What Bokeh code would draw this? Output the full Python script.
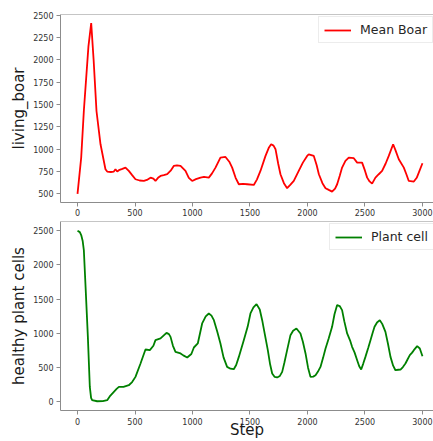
from bokeh.plotting import figure
from bokeh.layouts import column
from bokeh.models import Range1d, FixedTicker, Span, Legend, LegendItem
from bokeh.embed import file_html
from bokeh.resources import INLINE

# ---- data ----
boar_step = [0, 32, 55, 95, 119, 140, 165, 200, 243, 258, 290, 316, 330, 345, 360, 390, 417, 446,
             475, 504, 540, 577, 610, 635, 660, 678, 700, 722, 750, 780, 810, 837, 865, 896, 939,
             968, 997, 1030, 1070, 1100, 1142, 1170, 1200, 1243, 1287, 1320, 1345, 1375, 1403,
             1440, 1475, 1533, 1560, 1591, 1635, 1665, 1684, 1705, 1722, 1745, 1765, 1795, 1823,
             1850, 1881, 1924, 1960, 1997, 2011, 2055, 2080, 2099, 2130, 2157, 2185, 2214, 2240,
             2258, 2280, 2301, 2330, 2359, 2403, 2432, 2475, 2500, 2519, 2540, 2562, 2591, 2620,
             2649, 2680, 2707, 2745, 2765, 2794, 2838, 2860, 2881, 2925, 2950, 2968, 3000]
boar_mean = [500, 906, 1427, 2150, 2410, 2000, 1427, 1055, 776, 750, 745, 750, 775, 750, 765, 780,
             794, 757, 710, 664, 650, 645, 660, 682, 670, 645, 680, 701, 710, 720, 760, 813, 820,
             813, 757, 680, 645, 665, 682, 690, 682, 730, 794, 906, 913, 860, 794, 680, 608, 612,
             608, 600, 660, 757, 925, 1020, 1055, 1040, 1000, 840, 720, 620, 564, 600, 645, 757,
             850, 925, 943, 925, 820, 720, 620, 564, 545, 526, 560, 608, 700, 794, 870, 906, 899,
             850, 850, 760, 682, 640, 615, 682, 720, 757, 840, 925, 1055, 990, 888, 794, 720, 645,
             638, 680, 738, 843]

plant_step = [0, 20, 32, 45, 55, 70, 90, 107, 118, 127, 171, 220, 258, 280, 316, 340, 360, 400,
              446, 475, 504, 548, 591, 629, 660, 678, 722, 774, 795, 809, 830, 852, 896, 920, 954,
              990, 1012, 1046, 1084, 1115, 1142, 1165, 1186, 1215, 1243, 1270, 1301, 1330, 1359,
              1380, 1403, 1446, 1480, 1504, 1530, 1557, 1585, 1606, 1630, 1655, 1675, 1693, 1715,
              1736, 1760, 1780, 1800, 1823, 1852, 1875, 1904, 1939, 1960, 1983, 2005, 2026, 2050,
              2070, 2090, 2113, 2135, 2157, 2185, 2214, 2235, 2258, 2280, 2301, 2320, 2345, 2370,
              2388, 2410, 2432, 2450, 2467, 2485, 2504, 2530, 2548, 2565, 2583, 2605, 2629, 2650,
              2678, 2700, 2722, 2745, 2765, 2790, 2809, 2830, 2852, 2870, 2890, 2910, 2925, 2954,
              2977, 3000]
plant_cells = [2500, 2480, 2437, 2350, 2218, 1681, 950, 219, 60, 25, 10, 12, 25, 80, 146, 190, 219,
               220, 244, 290, 366, 561, 766, 756, 820, 902, 927, 1009, 990, 950, 820, 731, 708, 680,
               649, 700, 795, 854, 1146, 1250, 1292, 1260, 1194, 1030, 854, 650, 512, 485, 478, 540,
               658, 902, 1100, 1292, 1380, 1428, 1350, 1194, 980, 756, 550, 415, 365, 357, 380, 439,
               580, 756, 975, 1040, 1073, 1000, 880, 708, 500, 366, 370, 390, 440, 512, 640, 781,
               930, 1097, 1280, 1414, 1400, 1341, 1180, 1000, 900, 805, 720, 610, 520, 473, 560,
               658, 800, 902, 1000, 1097, 1160, 1194, 1140, 1023, 850, 658, 530, 463, 470, 473, 510,
               561, 620, 683, 720, 756, 814, 780, 668]

x_ticks = [0, 500, 1000, 1500, 2000, 2500, 3000]
boar_ticks = [500, 750, 1000, 1250, 1500, 1750, 2000, 2250, 2500]
plant_ticks = [0, 500, 1000, 1500, 2000, 2500]

FONT = "DejaVu Sans"
SPINE = "#8c8c8c"
TXT = "#333333"


def style(p, yticks, ylabel, xlabel=None):
    p.outline_line_color = None
    p.xgrid.grid_line_color = None
    p.ygrid.grid_line_color = None
    p.xaxis.ticker = FixedTicker(ticks=x_ticks)
    p.yaxis.ticker = FixedTicker(ticks=yticks)
    for ax in (p.xaxis[0], p.yaxis[0]):
        ax.axis_line_color = SPINE
        ax.major_tick_line_color = SPINE
        ax.minor_tick_line_color = None
        ax.major_tick_in = 0
        ax.major_tick_out = 4
        ax.major_label_standoff = 3
        ax.major_label_text_font = FONT
        ax.major_label_text_font_size = "8px"
        ax.major_label_text_color = TXT
        ax.axis_label_text_font = FONT
        ax.axis_label_text_font_size = "15px"
        ax.axis_label_text_font_style = "normal"
        ax.axis_label_text_color = "#1a1a1a"
    p.xaxis.major_label_standoff = 2
    p.yaxis.axis_label = ylabel
    p.yaxis.axis_label_standoff = 2
    if xlabel:
        p.xaxis.axis_label = xlabel
        p.xaxis.axis_label_standoff = -7
    p.add_layout(Span(location=p.y_range.end, dimension="width",
                      line_color=SPINE, line_width=1))


# ---- top panel ----
p1 = figure(width=433, height=220, output_backend="svg", toolbar_location=None,
            x_range=Range1d(-148, 3096), y_range=Range1d(404, 2506),
            min_border_left=60, min_border_right=0, min_border_top=14, min_border_bottom=18)
r1 = p1.line(boar_step, boar_mean, line_color="#ff0000", line_width=1.8)
style(p1, boar_ticks, "living_boar")

# ---- bottom panel ----
p2 = figure(width=433, height=221, output_backend="svg", toolbar_location=None,
            x_range=Range1d(-148, 3096), y_range=Range1d(-125, 2635),
            min_border_left=60, min_border_right=0, min_border_top=1, min_border_bottom=31)
r2 = p2.line(plant_step, plant_cells, line_color="#008000", line_width=1.8)
style(p2, plant_ticks, "healthy plant cells", "Step")
p2.xaxis.major_label_standoff = 3


def add_legend(p, r, label, loc):
    lg = Legend(items=[LegendItem(label=label, renderers=[r])], location=loc,
                margin=0, padding=5, spacing=0, glyph_width=27, glyph_height=12,
                label_height=12, label_standoff=9,
                label_text_font=FONT, label_text_font_size="12.5px", label_text_color="#262626",
                border_line_color="#d9d9d9", border_line_width=1,
                background_fill_color="white", background_fill_alpha=0.8)
    p.add_layout(lg)


add_legend(p1, r1, "Mean Boar", (258, 159))
add_legend(p2, r2, "Plant cell", (269, 160))

layout = column(p1, p2, spacing=0)
open("out.html", "w").write(file_html(layout, INLINE))
